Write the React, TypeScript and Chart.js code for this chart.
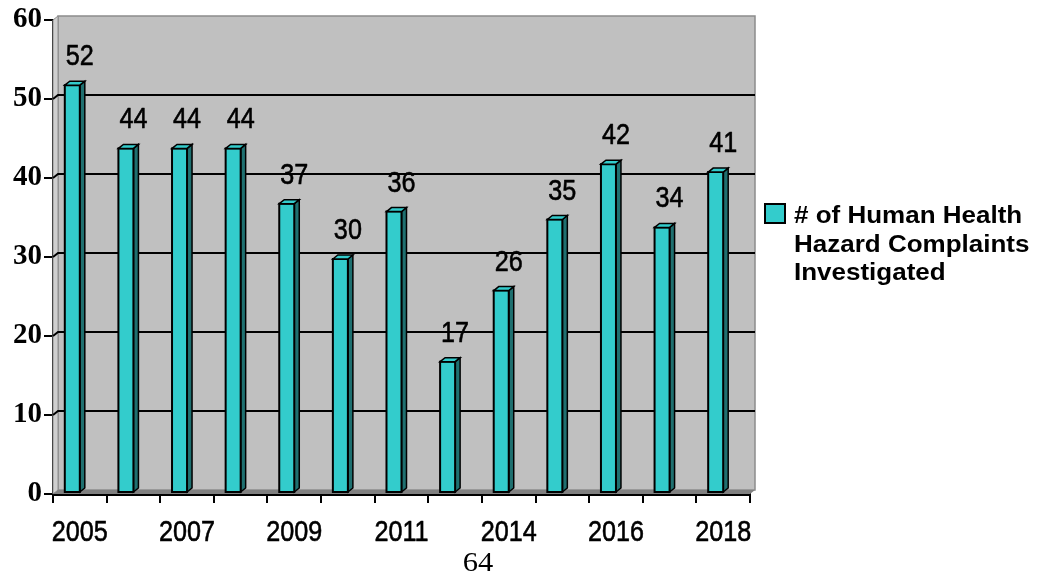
import React, { useEffect, useRef } from 'react';
import { Chart, registerables } from 'chart.js';

Chart.register(...registerables);

const categories = ['2005', '2006', '2007', '2008', '2009', '2010', '2011', '2013', '2014', '2015', '2016', '2017', '2018'];
const complaints = [52, 44, 44, 44, 37, 30, 36, 17, 26, 35, 42, 34, 41];
const yTickValues = [0, 10, 20, 30, 40, 50, 60];
const legendLines = ['# of Human Health', 'Hazard Complaints', 'Investigated'];
const pageNumber = '64';

const TEAL = '#33CCCC';
const TEAL_SIDE = '#1F7070';
const DX = 5;
const DY = 4;
const WIDE = 1.13;
const NARROW = 0.84;
const NARROW_FONT = '30px "Liberation Sans", Arial, sans-serif';

function poly(ctx: CanvasRenderingContext2D, pts: number[][], fill: string, stroke?: string, lw = 1.5) {
  ctx.beginPath();
  ctx.moveTo(pts[0][0], pts[0][1]);
  for (let i = 1; i < pts.length; i++) ctx.lineTo(pts[i][0], pts[i][1]);
  ctx.closePath();
  ctx.fillStyle = fill;
  ctx.fill();
  if (stroke) {
    ctx.strokeStyle = stroke;
    ctx.lineWidth = lw;
    ctx.lineJoin = 'miter';
    ctx.stroke();
  }
}

function scaledText(ctx: CanvasRenderingContext2D, text: string, x: number, y: number, sx: number, align: CanvasTextAlign, thicken = 0) {
  ctx.save();
  ctx.translate(x, y);
  ctx.scale(sx, 1);
  ctx.textAlign = align;
  ctx.textBaseline = 'alphabetic';
  ctx.fillText(text, 0, 0);
  if (thicken > 0) {
    ctx.strokeStyle = ctx.fillStyle;
    ctx.lineWidth = thicken;
    ctx.lineJoin = 'round';
    ctx.strokeText(text, 0, 0);
  }
  ctx.restore();
}

const threeD = {
  id: 'threeD',
  beforeDatasetsDraw(chart: any) {
    const { ctx, chartArea: a, scales } = chart;
    const y = scales.y;
    ctx.save();
    poly(ctx, [[a.left + DX, a.top - DY], [a.right + DX, a.top - DY], [a.right + DX, a.bottom - DY], [a.left + DX, a.bottom - DY]], '#C0C0C0', '#8C8C8C', 1.5);
    poly(ctx, [[a.left, a.top], [a.left + DX, a.top - DY], [a.left + DX, a.bottom - DY], [a.left, a.bottom]], '#CFCFCF', '#8C8C8C', 1);
    poly(ctx, [[a.left, a.bottom], [a.left + DX, a.bottom - DY], [a.right + DX, a.bottom - DY], [a.right, a.bottom]], '#808080');
    ctx.strokeStyle = '#000';
    ctx.lineWidth = 2;
    for (const v of yTickValues) {
      if (v === 0 || v === 60) continue;
      const yy = y.getPixelForValue(v);
      ctx.beginPath();
      ctx.moveTo(a.left, yy);
      ctx.lineTo(a.left + DX, yy - DY);
      ctx.lineTo(a.right + DX, yy - DY);
      ctx.stroke();
    }
    ctx.restore();
  },
  afterDatasetsDraw(chart: any) {
    const { ctx } = chart;
    const meta = chart.getDatasetMeta(0);
    ctx.save();
    meta.data.forEach((el: any, i: number) => {
      const c = el.x;
      const w = el.width;
      const x0 = c - w;
      const x1 = c;
      const top = el.y + 2;
      const bot = el.base - 1;
      poly(ctx, [[x1, top], [x1 + DX, top - DY], [x1 + DX, bot - DY], [x1, bot]], TEAL_SIDE, '#000', 1.5);
      poly(ctx, [[x0, top], [x1, top], [x1, bot], [x0, bot]], TEAL, '#000', 2);
      poly(ctx, [[x0, top], [x0 + DX, top - DY], [x1 + DX, top - DY], [x1, top]], TEAL, '#000', 1.5);
      ctx.fillStyle = '#000';
      ctx.font = NARROW_FONT;
      scaledText(ctx, String(complaints[i]), c, el.y - 18, NARROW, 'center', 0.6);
    });
    ctx.restore();
  },
  afterDraw(chart: any) {
    const { ctx, chartArea: a, scales } = chart;
    const x = scales.x;
    ctx.save();
    ctx.fillStyle = '#000';
    ctx.font = NARROW_FONT;
    categories.forEach((lab, i) => {
      if (i % 2 !== 0) return;
      scaledText(ctx, lab, x.getPixelForValue(i), a.bottom + 47, NARROW, 'center', 0.6);
    });
    const bx = a.right + 15;
    const by = 204;
    ctx.fillStyle = TEAL;
    ctx.fillRect(bx, by, 20, 19);
    ctx.strokeStyle = '#000';
    ctx.lineWidth = 2;
    ctx.strokeRect(bx, by, 20, 19);
    ctx.fillStyle = '#000';
    ctx.font = 'bold 23px "Liberation Sans", Arial, sans-serif';
    legendLines.forEach((line, i) => {
      scaledText(ctx, line, bx + 29, 223 + i * 28.5, WIDE, 'left');
    });
    ctx.restore();
  },
};

export default function App() {
  const ref = useRef<HTMLCanvasElement>(null);
  useEffect(() => {
    if (!ref.current) return;
    const chart = new Chart(ref.current, {
      type: 'bar',
      data: {
        labels: categories,
        datasets: [
          {
            label: legendLines.join(' '),
            data: complaints,
            backgroundColor: 'rgba(0,0,0,0)',
            borderWidth: 0,
            categoryPercentage: 1,
            barPercentage: 0.28,
          },
        ],
      },
      options: {
        animation: false,
        responsive: true,
        maintainAspectRatio: false,
        layout: { padding: { top: 20, right: 289, left: 0, bottom: 0 } },
        plugins: { legend: { display: false }, tooltip: { enabled: false } },
        scales: {
          x: {
            type: 'category',
            offset: true,
            grid: { drawOnChartArea: false, offset: true, color: '#000', lineWidth: 2, tickLength: 9 },
            border: { color: '#000', width: 3 },
            ticks: { display: false, autoSkip: false },
            afterFit: (s: any) => {
              s.height = 80;
            },
          },
          y: {
            min: 0,
            max: 60,
            grid: { drawOnChartArea: false, color: '#000', lineWidth: 2, tickLength: 9 },
            border: { color: '#000', width: 2.5 },
            ticks: {
              stepSize: 10,
              padding: 2,
              color: '#000',
              font: { family: '"Liberation Serif", "Times New Roman", serif', size: 29, weight: 'bold' },
            },
            afterFit: (s: any) => {
              s.width = 53;
            },
          },
        },
      },
      plugins: [threeD],
    });
    return () => chart.destroy();
  }, []);

  return (
    <div style={{ position: 'absolute', left: 0, top: 0, width: 1039, height: 574, background: '#fff' }}>
      <canvas ref={ref} />
      <div
        style={{
          position: 'absolute',
          left: 448,
          top: 547,
          width: 60,
          textAlign: 'center',
          fontFamily: '"Liberation Serif", "Times New Roman", serif',
          fontSize: 27,
          lineHeight: '30px',
          transform: `scaleX(${WIDE})`,
        }}
      >
        {pageNumber}
      </div>
    </div>
  );
}
